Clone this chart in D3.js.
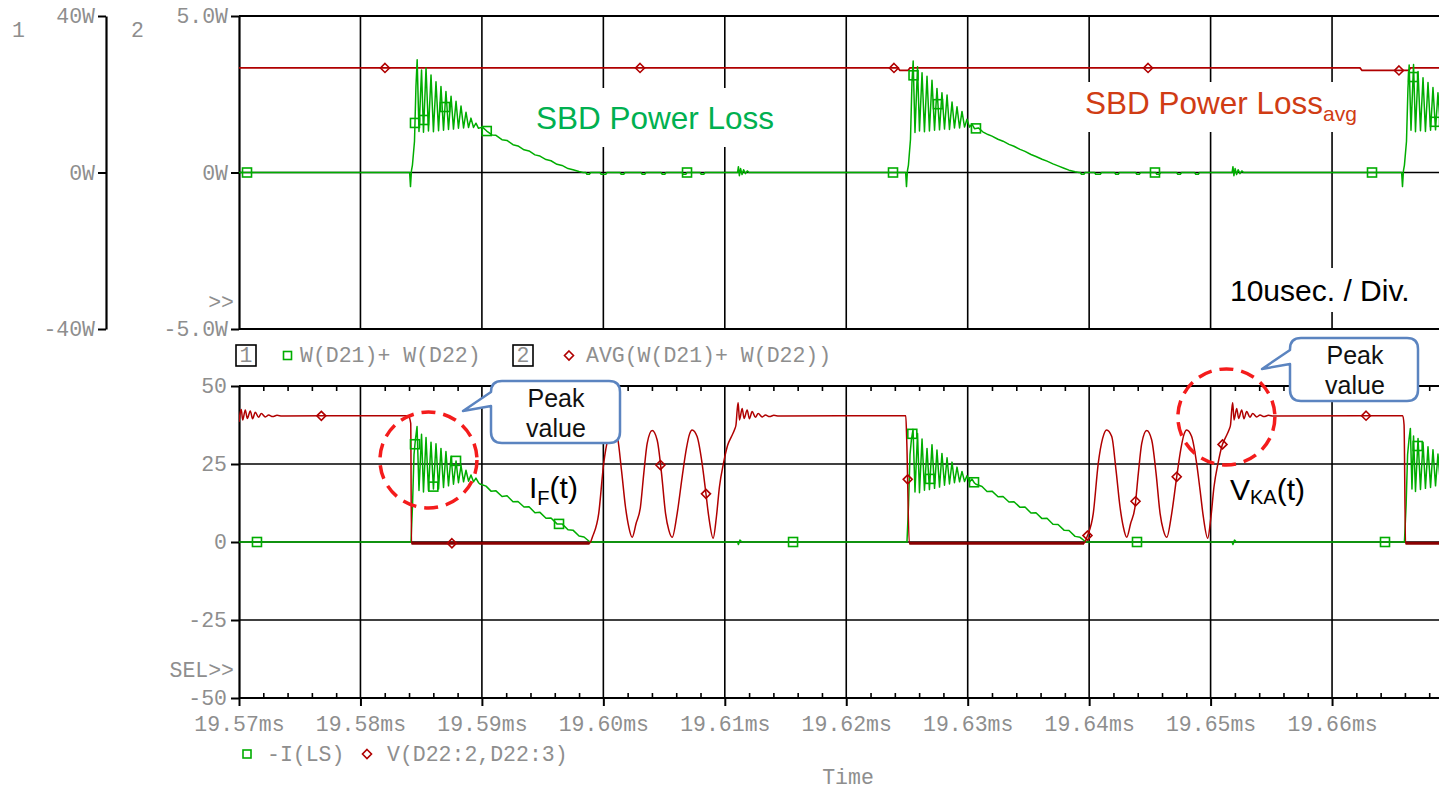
<!DOCTYPE html>
<html>
<head>
<meta charset="utf-8">
<script src="https://cdn.jsdelivr.net/npm/d3@7"></script>
<style>
  html, body { margin: 0; padding: 0; background: #fff; overflow: hidden; }
  svg { display: block; }
  .mono { font-family: "Liberation Mono", "DejaVu Sans Mono", monospace; font-size: 21.5px; fill: #8e8e8e; }
  .sans { font-family: "Liberation Sans", Arial, sans-serif; }
</style>
</head>
<body>
<svg id="chart" width="1439" height="790"></svg>
<script>
// ---- time axis: microseconds after 19.57 ms ----
const timeTicksUs = [0, 10, 20, 30, 40, 50, 60, 70, 80, 90];
const timeTickLabels = ["19.57ms", "19.58ms", "19.59ms", "19.60ms", "19.61ms",
                        "19.62ms", "19.63ms", "19.64ms", "19.65ms", "19.66ms"];
const minorTicksUs = [2,4,6,8,12,14,16,18,22,24,26,28,32,34,36,38,42,44,46,48,
                      52,54,56,58,62,64,66,68,72,74,76,78,82,84,86,88,92,94,96,98];

// ---- upper plot axes ----
const axis1Ticks = [40, 0, -40];
const axis1Labels = ["40W", "0W", "-40W"];
const axis2Ticks = [5, 0, -5];
const axis2Labels = ["5.0W", "0W", "-5.0W"];

// ---- lower plot axis ----
const lowerTicks = [50, 25, 0, -25, -50];
const lowerLabels = ["50", "25", "0", "-25", "-50"];

// W(D21)+ W(D22)  [time us, W]  (axis 1)
const powerW = [
  [0,0],[14.05,0],[14.12,-3.6],[14.20,0.5],[14.28,1.9],[14.45,8.0],[14.57,22.0],[14.67,28.8],
  [14.82,10.5],[15.03,26.2],[15.19,10.3],[15.40,26.7],[15.60,10.6],[15.81,24.9],[16.01,10.4],
  [16.22,23.2],[16.43,10.7],[16.63,22.0],[16.84,10.8],[17.04,20.7],[17.25,11.0],[17.46,19.5],
  [17.66,11.1],[17.87,18.2],[18.07,11.3],[18.28,17.0],[18.49,11.4],[18.69,15.4],[18.90,11.5],
  [19.10,13.9],[19.31,11.5],[19.51,12.6],[19.72,11.3],[20.04,11.6],
  [20.40,10.6],[20.83,9.6],[21.16,9.5],[21.65,8.4],[22.07,8.2],[22.56,7.1],[22.97,6.8],
  [23.47,5.8],[23.88,5.5],[24.37,4.5],[24.78,4.2],[25.28,3.3],[25.69,3.0],[26.18,2.1],
  [26.60,1.8],[27.09,1.0],[27.50,0.7],[28.00,0.25],[28.33,0],
  [28.55,0],[28.65,-0.45],[28.85,-0.45],[28.95,0],[29.72,0],[29.82,-0.45],[30.20,-0.45],[30.30,0],
  [31.37,0],[31.47,-0.45],[31.68,-0.45],[31.78,0],[33.10,0],[33.20,-0.45],[33.41,-0.45],[33.51,0],
  [34.75,0],[34.85,-0.45],[35.06,-0.45],[35.16,0],[36.48,0],[36.58,-0.45],[36.79,-0.45],[36.89,0],
  [37.96,0],[38.06,-0.45],[38.27,-0.45],[38.37,0],
  [41.05,0],[41.12,1.5],[41.20,-0.8],[41.30,1.0],[41.42,-0.5],[41.55,0.7],[41.70,-0.3],[41.85,0.4],[42.00,0],
  [54.89,0],[54.96,-3.6],[55.04,0.5],[55.12,1.9],[55.29,8.5],[55.41,23.0],[55.51,28.5],
  [55.66,10.2],[55.87,27.0],[56.03,10.6],[56.24,25.5],[56.44,10.4],[56.65,24.6],[56.85,10.6],
  [57.06,23.6],[57.27,10.8],[57.47,21.5],[57.68,10.9],[57.88,20.4],[58.09,11.1],[58.30,19.8],
  [58.50,11.0],[58.71,18.0],[58.91,11.4],[59.12,16.8],[59.33,11.4],[59.53,15.6],[59.74,11.6],
  [59.94,13.6],[60.15,11.6],[60.35,12.4],[60.56,11.2],[60.88,11.4],
  [61.24,10.4],[61.67,9.7],[62.00,9.3],[62.49,8.5],[62.91,8.0],[63.40,7.2],[63.81,6.7],
  [64.31,5.9],[64.72,5.4],[65.21,4.6],[65.62,4.1],[66.12,3.4],[66.53,2.9],[67.02,2.2],
  [67.44,1.7],[67.93,1.1],[68.34,0.6],[68.84,0.2],[69.17,0],
  [69.27,0],[69.37,-0.45],[69.57,-0.45],[69.67,0],[70.44,0],[70.54,-0.45],[70.92,-0.45],[71.02,0],
  [72.09,0],[72.19,-0.45],[72.40,-0.45],[72.50,0],[73.82,0],[73.92,-0.45],[74.13,-0.45],[74.23,0],
  [75.47,0],[75.57,-0.45],[75.78,-0.45],[75.88,0],[77.20,0],[77.30,-0.45],[77.51,-0.45],[77.61,0],
  [78.68,0],[78.78,-0.45],[78.99,-0.45],[79.09,0],
  [81.77,0],[81.84,1.5],[81.92,-0.8],[82.02,1.0],[82.14,-0.5],[82.27,0.7],[82.42,-0.3],[82.57,0.4],[82.72,0],
  [95.73,0],[95.80,-3.6],[95.88,0.5],[95.96,1.9],[96.13,8.0],[96.25,21.5],[96.35,27.5],
  [96.50,10.8],[96.71,27.6],[96.87,10.4],[97.08,25.8],[97.28,10.7],[97.49,24.2],[97.69,10.5],
  [97.90,23.0],[98.11,10.8],[98.31,21.7],[98.52,10.9],[98.72,20.4],[98.93,11.0],[99.14,19.4]
];

// AVG(W(D21)+ W(D22))  [time us, W]  (axis 2)
const avgW = [
  [0,3.34],[54.25,3.34],[54.42,3.26],[55.08,3.26],[55.25,3.34],
  [92.30,3.34],[92.47,3.26],[96.30,3.26],[96.47,3.34],[99.5,3.34]
];

// -I(LS)  [time us, A]
const iLs = [
  [0,0],[14.16,0],[14.29,12],[14.41,28],[14.53,33],[14.66,37.0],
  [14.82,16.5],[15.03,34.5],[15.19,16.0],[15.40,33.5],[15.60,16.5],[15.81,32.0],[16.01,17.0],
  [16.22,31.5],[16.43,17.0],[16.63,30.0],[16.84,17.5],[17.04,29.0],[17.25,18.0],[17.46,27.5],
  [17.66,18.5],[17.87,26.0],[18.07,19.0],[18.28,24.5],[18.49,19.3],[18.69,23.0],[18.90,19.5],
  [19.10,21.5],[19.31,19.3],[19.51,20.5],[19.72,19.0],[19.84,18.6],
  [20.34,17.9],[20.75,16.3],[21.16,16.4],[21.66,14.6],[22.07,14.8],[22.56,12.9],[22.97,13.0],
  [23.47,11.2],[23.88,11.3],[24.37,9.4],[24.78,9.5],[25.28,7.6],[25.69,7.7],[26.18,5.8],
  [26.60,5.8],[27.09,3.9],[27.50,3.8],[28.00,1.9],[28.41,1.6],[28.90,0],
  [41.05,0],[41.12,-0.8],[41.25,0.6],[41.40,0],
  [55.00,0],[55.13,12],[55.25,28],[55.37,33],[55.50,36.1],
  [55.66,16.0],[55.87,34.8],[56.03,15.8],[56.24,33.0],[56.44,16.6],[56.65,30.0],[56.85,16.8],
  [57.06,31.2],[57.27,17.2],[57.47,29.5],[57.68,17.6],[57.88,28.4],[58.09,18.2],[58.30,27.0],
  [58.50,18.6],[58.71,25.6],[58.91,19.0],[59.12,24.0],[59.33,19.3],[59.53,22.6],[59.74,19.4],
  [59.94,21.2],[60.15,19.2],[60.35,20.2],[60.56,18.9],[60.68,18.5],
  [61.18,17.8],[61.59,16.2],[62.00,16.3],[62.50,14.5],[62.91,14.6],[63.40,12.8],[63.81,12.9],
  [64.31,11.1],[64.72,11.2],[65.21,9.3],[65.62,9.4],[66.12,7.5],[66.53,7.6],[67.02,5.7],
  [67.44,5.6],[67.93,3.8],[68.34,3.7],[68.84,1.8],[69.25,1.5],[69.74,0],
  [81.77,0],[81.84,-0.8],[81.97,0.6],[82.12,0],
  [95.96,0],[96.10,12],[96.22,28],[96.34,33],[96.45,36.4],
  [96.58,17.0],[96.71,34.0],[96.87,16.2],[97.08,33.2],[97.28,16.8],[97.49,32.0],[97.69,17.2],
  [97.90,30.5],[98.11,17.5],[98.31,29.6],[98.52,18.0],[98.72,28.2],[98.93,18.3],[99.14,27.0]
];

// V(D22:2,D22:3)  [time us, V]
const vD22 = [
  [0,38.5],[0.08,41.0],[0.19,42.5],[0.30,39.1],[0.52,42.3],[0.68,39.6],[0.93,42.0],[1.12,39.5],
  [1.34,41.6],[1.61,40.0],[1.84,41.2],[2.17,40.1],[2.44,40.7],[2.77,40.2],[3.13,40.6],[3.54,40.4],
  [13.94,40.5],[14.14,38.0],[14.20,-0.4],
  [28.86,-0.4],[29.13,1.9],[29.62,9.2],[30.03,25.2],[30.39,33.2],[30.72,35.9],[31.14,33.8],
  [31.49,23.1],[31.82,11.3],[32.09,4.9],[32.37,1.5],[32.70,6.0],[33.05,11.1],[33.33,22.0],
  [33.61,31.6],[34.02,35.7],[34.43,32.7],[34.79,22.0],[35.12,9.2],[35.39,3.8],[35.67,1.5],
  [36.08,9.2],[36.49,20.9],[36.84,30.0],[37.09,34.5],[37.31,35.9],[37.72,33.8],[38.13,25.2],
  [38.41,16.7],[38.68,8.1],[39.04,1.2],[39.31,8.1],[39.56,17.7],[39.89,25.2],[40.24,31.1],
  [40.55,33.8],[40.79,35.9],[40.92,37.5],[41.02,42.3],[41.10,44.6],
  [41.21,39.1],[41.43,42.8],[41.59,39.6],[41.84,42.3],[42.03,39.5],[42.25,41.8],[42.52,40.0],
  [42.75,41.2],[43.08,40.1],[43.35,40.7],[43.68,40.2],[44.04,40.6],[44.45,40.4],
  [54.90,40.5],[54.98,32.7],[55.19,-0.4],
  [69.58,-0.4],[69.85,1.9],[70.34,9.2],[70.75,25.2],[71.11,33.2],[71.44,35.9],[71.86,33.8],
  [72.21,23.1],[72.54,11.3],[72.81,4.9],[73.09,1.5],[73.42,6.0],[73.77,11.1],[74.05,22.0],
  [74.33,31.6],[74.74,35.7],[75.15,32.7],[75.51,22.0],[75.84,9.2],[76.11,3.8],[76.39,1.5],
  [76.80,9.2],[77.21,20.9],[77.56,30.0],[77.81,34.5],[78.03,35.9],[78.44,33.8],[78.85,25.2],
  [79.13,16.7],[79.40,8.1],[79.76,1.2],[80.03,8.1],[80.28,17.7],[80.61,25.2],[80.96,31.1],
  [81.27,33.8],[81.51,35.9],[81.64,37.5],[81.74,42.3],[81.82,44.6],
  [81.93,39.1],[82.15,42.8],[82.31,39.6],[82.56,42.3],[82.75,39.5],[82.97,41.8],[83.24,40.0],
  [83.47,41.2],[83.80,40.1],[84.07,40.7],[84.40,40.2],[84.76,40.6],[85.17,40.4],
  [95.82,40.5],[95.93,37.5],[96.05,-0.4],[99.5,-0.4]
];

// symbol positions along each trace (time us)
const powerMarkUs = [0.66, 14.49, 15.23, 16.96, 20.40, 36.89, 53.85, 55.54, 57.55, 60.68, 75.42, 93.29, 96.67, 98.48];
const avgMarkUs = [12.02, 33.02, 53.93, 74.85, 95.51];
const iMarkUs = [1.48, 14.49, 16.0, 17.87, 26.35, 45.62, 55.44, 56.9, 60.52, 73.94, 94.36, 97.05];
const vMarkUs = [6.78, 17.53, 34.70, 38.45, 55.06, 69.86, 73.82, 77.21, 80.98, 92.80];

// ---------------------------------------------------------------
const W = 1439;
const green = "#00ad00", red = "#b00000";
const svg = d3.select("#chart");

const x = d3.scaleLinear().domain([0, 100]).range([239, 1453.5]);
const y1 = d3.scaleLinear().domain([-40, 40]).range([329, 16]);
const y2 = d3.scaleLinear().domain([-5, 5]).range([329, 16]);
const yL = d3.scaleLinear().domain([-50, 50]).range([698, 386]);

function valueAt(series, t) {
  const i = d3.bisector(d => d[0]).left(series, t);
  if (i <= 0) return series[0][1];
  if (i >= series.length) return series[series.length - 1][1];
  const a = series[i - 1], b = series[i];
  return a[1] + (b[1] - a[1]) * (t - a[0]) / (b[0] - a[0]);
}

function hline(g, yv, x0, x1, w) {
  g.append("line").attr("x1", x0).attr("x2", x1).attr("y1", yv).attr("y2", yv)
    .attr("stroke", "#000").attr("stroke-width", w);
}

// ---------- grids and frames ----------
const grid = svg.append("g");
[[y1(40), y1(-40)], [yL(50), yL(-50)]].forEach(([top, bot]) => {
  grid.selectAll(null).data(timeTicksUs.slice(1)).join("line")
    .attr("x1", d => x(d)).attr("x2", d => x(d)).attr("y1", top).attr("y2", bot)
    .attr("stroke", "#000").attr("stroke-width", 1.6);
});
hline(grid, y1(40), x(0), W, 2);
hline(grid, y1(-40), x(0), W, 2);
hline(grid, y1(0), x(0), W, 1.6);
hline(grid, yL(50), x(0), W, 2);
hline(grid, yL(-50), x(0), W, 2);
[25, 0, -25].forEach(v => hline(grid, yL(v), x(0), W, 1.6));

// minor time ticks on the lower plot frame
svg.append("g").attr("transform", `translate(0,${yL(-50)})`)
  .call(d3.axisBottom(x).tickValues(minorTicksUs).tickSize(-5).tickFormat(""))
  .call(g => g.select(".domain").remove())
  .call(g => g.selectAll("line").attr("stroke", "#000").attr("stroke-width", 1.6));
svg.append("g").attr("transform", `translate(0,${yL(50)})`)
  .call(d3.axisTop(x).tickValues(minorTicksUs).tickSize(-5).tickFormat(""))
  .call(g => g.select(".domain").remove())
  .call(g => g.selectAll("line").attr("stroke", "#000").attr("stroke-width", 1.6));

// major time axis with labels
svg.append("g").attr("transform", `translate(0,${yL(-50)})`)
  .call(d3.axisBottom(x).tickValues(timeTicksUs).tickSize(8).tickPadding(10)
        .tickFormat((d, i) => timeTickLabels[i]))
  .call(g => g.select(".domain").remove())
  .call(g => g.selectAll("line").attr("stroke", "#000").attr("stroke-width", 2))
  .call(g => g.selectAll("text").attr("class", "mono").attr("font-size", null).attr("font-family", null));

// y axes
function yAxis(scale, xpos, ticks, labels, pad) {
  svg.append("g").attr("transform", `translate(${xpos},0)`)
    .call(d3.axisLeft(scale).tickValues(ticks).tickSize(8).tickSizeOuter(0).tickPadding(pad)
          .tickFormat((d, i) => labels[i]))
    .call(g => g.select(".domain").attr("stroke", "#000").attr("stroke-width", 2.2))
    .call(g => g.selectAll(".tick line").attr("stroke", "#000").attr("stroke-width", 2))
    .call(g => g.selectAll("text").attr("class", "mono").attr("font-size", null).attr("font-family", null));
}
yAxis(y1, 106, axis1Ticks, axis1Labels, 3);
yAxis(y2, 239, axis2Ticks, axis2Labels, 3);
yAxis(yL, 239, lowerTicks, lowerLabels, 4);

// ---------- traces ----------
const traces = svg.append("g");
const clipUp = svg.append("clipPath").attr("id", "cu");
clipUp.append("rect").attr("x", 239).attr("y", 16).attr("width", W).attr("height", 313);
const clipLo = svg.append("clipPath").attr("id", "cl");
clipLo.append("rect").attr("x", 239).attr("y", 386).attr("width", W).attr("height", 312);

const lineUp1 = d3.line().x(d => x(d[0])).y(d => y1(d[1]));
const lineUp2 = d3.line().x(d => x(d[0])).y(d => y2(d[1]));
const lineLo = d3.line().x(d => x(d[0])).y(d => yL(d[1]));
const lineLoSmooth = d3.line().x(d => x(d[0])).y(d => yL(d[1])).curve(d3.curveMonotoneX);

const tu = traces.append("g").attr("clip-path", "url(#cu)");
tu.append("path").attr("d", lineUp2(avgW)).attr("fill", "none").attr("stroke", red).attr("stroke-width", 1.8);
tu.append("path").attr("d", lineUp1(powerW)).attr("fill", "none").attr("stroke", green).attr("stroke-width", 1.5)
  .attr("stroke-linejoin", "round");

const tl = traces.append("g").attr("clip-path", "url(#cl)");
tl.append("path").attr("d", lineLo(iLs)).attr("fill", "none").attr("stroke", green).attr("stroke-width", 1.5)
  .attr("stroke-linejoin", "round");
tl.append("path").attr("d", lineLoSmooth(vD22)).attr("fill", "none").attr("stroke", red).attr("stroke-width", 1.5)
  .attr("stroke-linejoin", "round");
// the clamped (off-state) portions of the voltage trace are drawn heavier
const lowSegs = [];
for (let i = 1; i < vD22.length; i++) {
  if (vD22[i - 1][1] <= 0 && vD22[i][1] <= 0) lowSegs.push([vD22[i - 1], vD22[i]]);
}
tl.selectAll(null).data(lowSegs).join("path").attr("d", d => lineLo(d))
  .attr("fill", "none").attr("stroke", "#8a0000").attr("stroke-width", 3);

// ---------- symbols ----------
function squares(g, times, series, ys, color) {
  g.selectAll(null).data(times).join("rect")
    .attr("x", t => x(t) - 4.5).attr("y", t => ys(valueAt(series, t)) - 4.5)
    .attr("width", 9).attr("height", 9)
    .attr("fill", "none").attr("stroke", color).attr("stroke-width", 1.6);
}
function diamonds(g, times, series, ys, color) {
  g.selectAll(null).data(times).join("path")
    .attr("d", t => { const cx = x(t), cy = ys(valueAt(series, t));
      return `M${cx},${cy - 4.5}L${cx + 4.5},${cy}L${cx},${cy + 4.5}L${cx - 4.5},${cy}Z`; })
    .attr("fill", "none").attr("stroke", color).attr("stroke-width", 1.6);
}
const mu = svg.append("g").attr("clip-path", "url(#cu)");
diamonds(mu, avgMarkUs, avgW, y2, red);
squares(mu, powerMarkUs, powerW, y1, green);
const ml = svg.append("g").attr("clip-path", "url(#cl)");
squares(ml, iMarkUs, iLs, yL, green);
diamonds(ml, vMarkUs, vD22, yL, red);

// ---------- PSpice-style texts ----------
const t = svg.append("g");
function mono(txt, xp, yp, anchor) {
  t.append("text").attr("class", "mono").attr("x", xp).attr("y", yp)
    .attr("text-anchor", anchor || "start").text(txt);
}
mono("1", 12, 37);
mono("2", 131, 37);
mono(">>", 234, 309, "end");
mono("SEL>>", 234, 677, "end");
mono("Time", 848, 784, "middle");

// legend: upper plot
t.append("rect").attr("x", 236).attr("y", 345).attr("width", 20).attr("height", 21)
  .attr("fill", "none").attr("stroke", "#000").attr("stroke-width", 1.6);
mono("1", 246, 362, "middle");
t.append("rect").attr("x", 283.5).attr("y", 351.5).attr("width", 8).attr("height", 8)
  .attr("fill", "none").attr("stroke", green).attr("stroke-width", 1.6);
mono("W(D21)+ W(D22)", 300, 362);
t.append("rect").attr("x", 513).attr("y", 345).attr("width", 20).attr("height", 21)
  .attr("fill", "none").attr("stroke", "#000").attr("stroke-width", 1.6);
mono("2", 523, 362, "middle");
t.append("path").attr("d", "M569,351L573.5,355.5L569,360L564.5,355.5Z")
  .attr("fill", "none").attr("stroke", red).attr("stroke-width", 1.6);
mono("AVG(W(D21)+ W(D22))", 586, 362);

// legend: lower plot
t.append("rect").attr("x", 243).attr("y", 750).attr("width", 8).attr("height", 8)
  .attr("fill", "none").attr("stroke", green).attr("stroke-width", 1.6);
mono("-I(LS)", 267, 761);
t.append("path").attr("d", "M367,749.5L371.5,754L367,758.5L362.5,754Z")
  .attr("fill", "none").attr("stroke", red).attr("stroke-width", 1.6);
mono("V(D22:2,D22:3)", 387, 761);

// ---------- annotations ----------
const ann = svg.append("g").attr("class", "sans");

function boxedText(xp, yp, parts, color, box) {
  ann.append("rect").attr("x", box[0]).attr("y", box[1]).attr("width", box[2]).attr("height", box[3])
    .attr("fill", "#fff");
  const tx = ann.append("text").attr("x", xp).attr("y", yp).attr("fill", color);
  parts.forEach(p => tx.append("tspan").attr("font-size", p.size).attr("dy", p.dy || 0).text(p.s));
}
boxedText(536, 129, [{ s: "SBD Power Loss", size: 31.5 }], "#00b050", [528, 88, 256, 59]);
boxedText(1085, 114, [{ s: "SBD Power Loss", size: 31.5 }, { s: "avg", size: 21, dy: 7 }],
          "#d03c14", [1078, 82, 290, 50]);
boxedText(1230, 301, [{ s: "10usec. / Div.", size: 30 }], "#000", [1222, 268, 206, 44]);

// waveform names
const lbl1 = ann.append("text").attr("x", 529).attr("y", 498).attr("fill", "#000");
lbl1.append("tspan").attr("font-size", 30).text("I");
lbl1.append("tspan").attr("font-size", 20).attr("dy", 7).text("F");
lbl1.append("tspan").attr("font-size", 30).attr("dy", -7).text("(t)");
const lbl2 = ann.append("text").attr("x", 1230).attr("y", 500).attr("fill", "#000");
lbl2.append("tspan").attr("font-size", 30).text("V");
lbl2.append("tspan").attr("font-size", 20).attr("dy", 4).text("KA");
lbl2.append("tspan").attr("font-size", 30).attr("dy", -4).text("(t)");

// callouts
function callout(b, tail, cx) {
  const { x0, y0, x1, y1: yb, r } = b;
  const d = `M${x0 + r},${y0} H${x1 - r} Q${x1},${y0} ${x1},${y0 + r} V${yb - r} Q${x1},${yb} ${x1 - r},${yb}` +
            ` H${x0 + r} Q${x0},${yb} ${x0},${yb - r} V${tail.b} L${tail.tx},${tail.ty} L${x0},${tail.a}` +
            ` V${y0 + r} Q${x0},${y0} ${x0 + r},${y0} Z`;
  ann.append("path").attr("d", d).attr("fill", "#fff").attr("stroke", "#5b84c0").attr("stroke-width", 2.5)
    .attr("stroke-linejoin", "round");
  ann.append("text").attr("x", cx).attr("y", y0 + 25.5).attr("text-anchor", "middle")
    .attr("font-size", 25).attr("fill", "#111").text("Peak");
  ann.append("text").attr("x", cx).attr("y", y0 + 56).attr("text-anchor", "middle")
    .attr("font-size", 25).attr("fill", "#111").text("value");
}
callout({ x0: 491, y0: 381, x1: 620, y1: 443, r: 11 }, { a: 392, b: 406, tx: 463, ty: 411 }, 556);
callout({ x0: 1290, y0: 338, x1: 1418, y1: 401, r: 11 }, { a: 350, b: 364, tx: 1262, ty: 369 }, 1355);

// dashed rings around the peaks
[[15.6, 26.3], [81.3, 40.1]].forEach(([tc, vc]) => {
  ann.append("ellipse").attr("cx", x(tc)).attr("cy", yL(vc)).attr("rx", 48.5).attr("ry", 48)
    .attr("fill", "none").attr("stroke", "#f41c1c").attr("stroke-width", 3.5)
    .attr("stroke-dasharray", "14 8");
});
</script>
</body>
</html>
